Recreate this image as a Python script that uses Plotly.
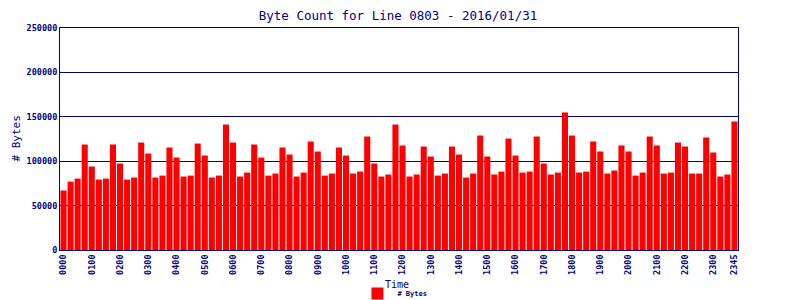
import plotly.graph_objects as go

times = [f"{h:02d}{m:02d}" for h in range(24) for m in (0, 15, 30, 45)]

byte_counts = [
    67000, 77000, 80400, 118800, 94000, 79300, 80400, 118800,
    97400, 79300, 81600, 121000, 108600, 81600, 83800, 115400,
    104100, 82700, 83800, 119900, 106400, 81600, 83800, 141300,
    121000, 82700, 87200, 118800, 104100, 83800, 86100, 115400,
    107500, 82700, 87200, 122200, 110900, 83800, 86100, 115400,
    106400, 86100, 88300, 127800, 97400, 82700, 85000, 141300,
    117700, 82700, 85000, 116500, 105300, 83800, 86100, 116500,
    107500, 81600, 86100, 128900, 105300, 85000, 88300, 125500,
    106400, 87200, 88300, 127800, 97400, 85000, 87200, 154900,
    128900, 87200, 88300, 122200, 110900, 86100, 89500, 117700,
    110900, 83800, 87200, 127800, 117700, 86100, 87200, 121000,
    116500, 86100, 86100, 126700, 109800, 82700, 85000, 144700,
]

tick_labels = [f"{h:02d}00" for h in range(24)] + ["2345"]
y_ticks = [0, 50000, 100000, 150000, 200000, 250000]

NAVY = "#000080"
FONT = "DejaVu Sans Mono"

fig = go.Figure()
fig.add_trace(go.Bar(
    x=times, y=byte_counts, name="# Bytes",
    marker=dict(color="#FF0000", line=dict(width=0)),
))

fig.update_layout(
    width=800, height=300,
    margin=dict(l=52, r=70, t=20, b=58, autoexpand=False),
    paper_bgcolor="white", plot_bgcolor="white",
    bargap=0.14,
    showlegend=True,
    font=dict(family=FONT, color=NAVY),
    title=dict(text="Byte Count for Line 0803 - 2016/01/31",
               x=0.4875, xanchor="center", y=0.973, yanchor="middle",
               font=dict(family=FONT, size=12.5, color=NAVY)),
    legend=dict(orientation="h", x=0.494, xanchor="center",
                yref="container", y=-0.01, yanchor="bottom",
                font=dict(family=FONT, size=7, color=NAVY, weight="bold"),
                itemwidth=30),
    xaxis=dict(
        type="category", categoryorder="array", categoryarray=times,
        tickmode="array", tickvals=tick_labels, ticktext=tick_labels,
        tickangle=-90, tickfont=dict(family=FONT, size=8.5, color=NAVY, weight="bold"),
        showgrid=False, showline=True, linecolor=NAVY, linewidth=1, mirror=True,
        ticks="", ticklen=0, automargin=False,
    ),
    yaxis=dict(
        range=[0, 250000], tickmode="array", tickvals=y_ticks,
        ticktext=[str(v) for v in y_ticks],
        tickfont=dict(family=FONT, size=8.5, color=NAVY, weight="bold"),
        showgrid=True, gridcolor=NAVY, gridwidth=1,
        showline=True, linecolor=NAVY, linewidth=1, mirror=True,
        ticks="", zeroline=False, automargin=False,
    ),
    annotations=[
        dict(text="Time", xref="paper", yref="paper", x=0.497, y=-0.155,
             xanchor="center", yanchor="middle", showarrow=False,
             font=dict(family=FONT, size=10, color=NAVY)),
        dict(text="# Bytes", xref="paper", yref="paper", x=-0.0656, y=0.5,
             xanchor="center", yanchor="middle", showarrow=False, textangle=-90,
             font=dict(family=FONT, size=11, color=NAVY)),
    ],
)

fig.write_html("out.html")
